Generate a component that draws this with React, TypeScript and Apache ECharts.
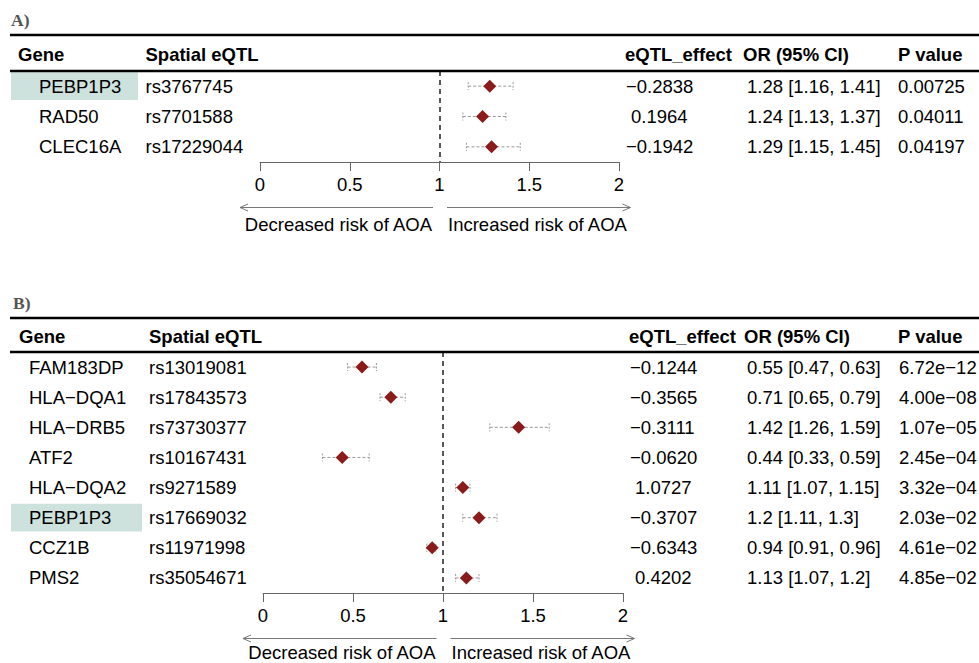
import React, { useEffect, useRef } from "react";
import * as echarts from "echarts";

// ---------- DATA ----------
const genesA = ["PEBP1P3", "RAD50", "CLEC16A"];
const snpsA = ["rs3767745", "rs7701588", "rs17229044"];
const effectA = ["−0.2838", "0.1964", "−0.1942"];
const orA = [1.28, 1.24, 1.29];
const loA = [1.16, 1.13, 1.15];
const hiA = [1.41, 1.37, 1.45];
const pA = ["0.00725", "0.04011", "0.04197"];
const highlightA = ["PEBP1P3"];

const genesB = ["FAM183DP", "HLA−DQA1", "HLA−DRB5", "ATF2", "HLA−DQA2", "PEBP1P3", "CCZ1B", "PMS2"];
const snpsB = ["rs13019081", "rs17843573", "rs73730377", "rs10167431", "rs9271589", "rs17669032", "rs11971998", "rs35054671"];
const effectB = ["−0.1244", "−0.3565", "−0.3111", "−0.0620", "1.0727", "−0.3707", "−0.6343", "0.4202"];
const orB = [0.55, 0.71, 1.42, 0.44, 1.11, 1.2, 0.94, 1.13];
const loB = [0.47, 0.65, 1.26, 0.33, 1.07, 1.11, 0.91, 1.07];
const hiB = [0.63, 0.79, 1.59, 0.59, 1.15, 1.3, 0.96, 1.2];
const pB = ["6.72e−12", "4.00e−08", "1.07e−05", "2.45e−04", "3.32e−04", "2.03e−02", "4.61e−02", "4.85e−02"];
const highlightB = ["PEBP1P3"];

const headers = ["Gene", "Spatial eQTL", "eQTL_effect", "OR (95% CI)", "P value"];
const panelTitles = ["A)", "B)"];
const axisMin = 0;
const axisMax = 2;
const axisInterval = 0.5;
const refValue = 1;
const arrowLabels = ["Decreased risk of AOA", "Increased risk of AOA"];

// ---------- LAYOUT / STYLE ----------
const FONT = '"Liberation Sans", Arial, Helvetica, sans-serif';
const FS = 18.5;
const DIAMOND = "#8B1A1A";
const HILITE = "#cde2dd";
const PAGE_H = 663;

const panels = [
  {
    title: panelTitles[0], genes: genesA, snps: snpsA, effects: effectA, or: orA, lo: loA, hi: hiA, p: pA,
    highlight: highlightA,
    layout: {
      titleX: 11, titleY: 20, topLine: 35, headerY: 54,
      gridLeft: 260, gridWidth: 359, gridTop: 71, gridHeight: 91,
      hdrX: [18, 145.5, 625, 743, 898],
      colX: [39, 145.5, 626, 747, 898],
      hiRight: 138,
    },
  },
  {
    title: panelTitles[1], genes: genesB, snps: snpsB, effects: effectB, or: orB, lo: loB, hi: hiB, p: pB,
    highlight: highlightB,
    layout: {
      titleX: 13, titleY: 303, topLine: 318, headerY: 336.5,
      gridLeft: 263, gridWidth: 360, gridTop: 352, gridHeight: 241,
      hdrX: [19, 149, 629, 744, 898],
      colX: [29, 149, 630, 747, 899],
      hiRight: 142,
    },
  },
];

function txt(text: string, x: number, y: number, opts: any = {}) {
  const align = opts.align || "left";
  const fontSize = opts.fontSize || FS;
  return {
    type: "text",
    x,
    y,
    silent: true,
    style: {
      text,
      fill: opts.fill || "#000",
      fontSize,
      fontFamily: opts.fontFamily || FONT,
      fontWeight: opts.fontWeight || "normal",
      lineHeight: opts.lineHeight || fontSize,
      align,
      textAlign: align,
      verticalAlign: "middle",
      textVerticalAlign: "middle",
    },
  };
}

export default function App() {
  const ref = useRef<HTMLDivElement>(null);

  useEffect(() => {
    if (!ref.current) return;
    const chart = echarts.init(ref.current, undefined, { renderer: "svg" });

    const grids: any[] = [];
    const xAxes: any[] = [];
    const yAxes: any[] = [];
    const series: any[] = [];

    panels.forEach((pn, pi) => {
      const L = pn.layout;
      grids.push({ left: L.gridLeft, top: L.gridTop, width: L.gridWidth, height: L.gridHeight, containLabel: false });
      xAxes.push({
        type: "value", gridIndex: pi, min: axisMin, max: axisMax, interval: axisInterval, position: "bottom",
        axisLine: { show: true, lineStyle: { color: "#666", width: 1 } },
        axisTick: { show: true, length: 9, inside: false, lineStyle: { color: "#666", width: 1 } },
        axisLabel: { color: "#000", fontSize: FS, fontFamily: FONT, margin: 12.5 },
        splitLine: { show: false },
      });
      yAxes.push({
        type: "category", gridIndex: pi, data: pn.genes, inverse: true, show: false, boundaryGap: true,
      });

      const rows = pn.genes.map((_, i) => [axisMin, i]);

      // highlight rect
      const hiRows = pn.genes.map((g, i) => (pn.highlight.includes(g) ? [axisMin, i] : null)).filter(Boolean);
      series.push({
        type: "custom", xAxisIndex: pi, yAxisIndex: pi, z: 1, silent: true, clip: false,
        encode: { x: 0, y: 1 },
        data: hiRows,
        renderItem: (params: any, api: any) => {
          const y = api.coord([axisMin, api.value(1)])[1];
          const band = api.size([0, 1])[1];
          const h = band * 0.92;
          return {
            type: "rect",
            shape: { x: 11, y: y - h / 2, width: L.hiRight - 11, height: h },
            style: { fill: HILITE },
          };
        },
      });

      // table texts
      series.push({
        type: "custom", xAxisIndex: pi, yAxisIndex: pi, z: 3, silent: true, clip: false,
        encode: { x: 0, y: 1 },
        data: rows,
        renderItem: (params: any, api: any) => {
          const i = params.dataIndex;
          const y = api.coord([axisMin, api.value(1)])[1];
          const eff = pn.effects[i];
          const effX = L.colX[2] + (eff.startsWith("−") ? 0 : 5);
          const orText = `${pn.or[i]} [${pn.lo[i]}, ${pn.hi[i]}]`;
          return {
            type: "group",
            children: [
              txt(pn.genes[i], L.colX[0], y),
              txt(pn.snps[i], L.colX[1], y),
              txt(eff, effX, y),
              txt(orText, L.colX[3], y),
              txt(pn.p[i], L.colX[4], y),
            ],
          };
        },
      });

      // CI whiskers
      series.push({
        type: "custom", xAxisIndex: pi, yAxisIndex: pi, z: 4, silent: true, clip: false,
        encode: { x: [0, 1], y: 2 },
        data: pn.lo.map((lo, i) => [lo, pn.hi[i], i]),
        renderItem: (params: any, api: any) => {
          const a = api.coord([api.value(0), api.value(2)]);
          const b = api.coord([api.value(1), api.value(2)]);
          const ls = { stroke: "#999", lineWidth: 1, lineDash: [3, 2] };
          const cs = { stroke: "#999", lineWidth: 1, lineDash: [2, 1.5] };
          const cap = 4;
          return {
            type: "group",
            children: [
              { type: "line", shape: { x1: a[0], y1: a[1], x2: b[0], y2: b[1] }, style: ls },
              { type: "line", shape: { x1: a[0], y1: a[1] - cap, x2: a[0], y2: a[1] + cap }, style: cs },
              { type: "line", shape: { x1: b[0], y1: b[1] - cap, x2: b[0], y2: b[1] + cap }, style: cs },
            ],
          };
        },
      });

      // point estimates
      series.push({
        type: "scatter", xAxisIndex: pi, yAxisIndex: pi, z: 5, silent: true,
        symbol: "diamond", symbolSize: 13,
        itemStyle: { color: DIAMOND, opacity: 1 },
        data: pn.or.map((v, i) => [v, i]),
        markLine: {
          silent: true, symbol: "none", label: { show: false },
          lineStyle: { color: "#222", width: 1.5, type: [5, 4], opacity: 1 },
          data: [{ xAxis: refValue }],
        },
      });
    });

    chart.setOption({
      animation: false,
      backgroundColor: "#fff",
      grid: grids,
      xAxis: xAxes,
      yAxis: yAxes,
      series,
    });

    // annotations (titles, rules, headers, arrows)
    const graphics: any[] = [];
    panels.forEach((pn, pi) => {
      const L = pn.layout;
      graphics.push(txt(pn.title, L.titleX, L.titleY, { fontFamily: '"Liberation Serif", "Times New Roman", serif', fontWeight: "bold", fontSize: 17.5, fill: "#555" }));
      graphics.push({ type: "line", silent: true, z: 10, shape: { x1: 10, y1: L.topLine, x2: 979, y2: L.topLine }, style: { stroke: "#000", lineWidth: 2.5 } });
      graphics.push({ type: "line", silent: true, z: 10, shape: { x1: 10, y1: L.gridTop, x2: 979, y2: L.gridTop }, style: { stroke: "#000", lineWidth: 2.5 } });
      headers.forEach((h, hi) => graphics.push(txt(h, L.hdrX[hi], L.headerY, { fontWeight: "bold" })));

      const x0 = chart.convertToPixel({ xAxisIndex: pi }, axisMin) as number;
      const x1 = chart.convertToPixel({ xAxisIndex: pi }, refValue) as number;
      const x2 = chart.convertToPixel({ xAxisIndex: pi }, axisMax) as number;
      const base = L.gridTop + L.gridHeight;
      const ay = base + 45.5;
      const ty = Math.min(base + 62, PAGE_H - 11);
      const st = { stroke: "#777", lineWidth: 1, fill: "none" };
      const lt = x0 - 20;
      const rt = x2 + 11.5;
      graphics.push({ type: "line", silent: true, shape: { x1: lt, y1: ay, x2: x1 - 6.5, y2: ay }, style: st });
      graphics.push({ type: "polyline", silent: true, shape: { points: [[lt + 8, ay - 3.5], [lt, ay], [lt + 8, ay + 3.5]] }, style: st });
      graphics.push({ type: "line", silent: true, shape: { x1: x1 + 7.5, y1: ay, x2: rt, y2: ay }, style: st });
      graphics.push({ type: "polyline", silent: true, shape: { points: [[rt - 8, ay - 3.5], [rt, ay], [rt - 8, ay + 3.5]] }, style: st });
      graphics.push(txt(arrowLabels[0], x1 - 7.5, ty, { align: "right", lineHeight: 17 }));
      graphics.push(txt(arrowLabels[1], x1 + 8.5, ty, { lineHeight: 17 }));
    });

    chart.setOption({ graphic: { elements: graphics } });

    return () => chart.dispose();
  }, []);

  return (
    <div
      ref={ref}
      style={{ position: "absolute", left: 0, top: 0, width: 979, height: 663, background: "#fff" }}
    />
  );
}
